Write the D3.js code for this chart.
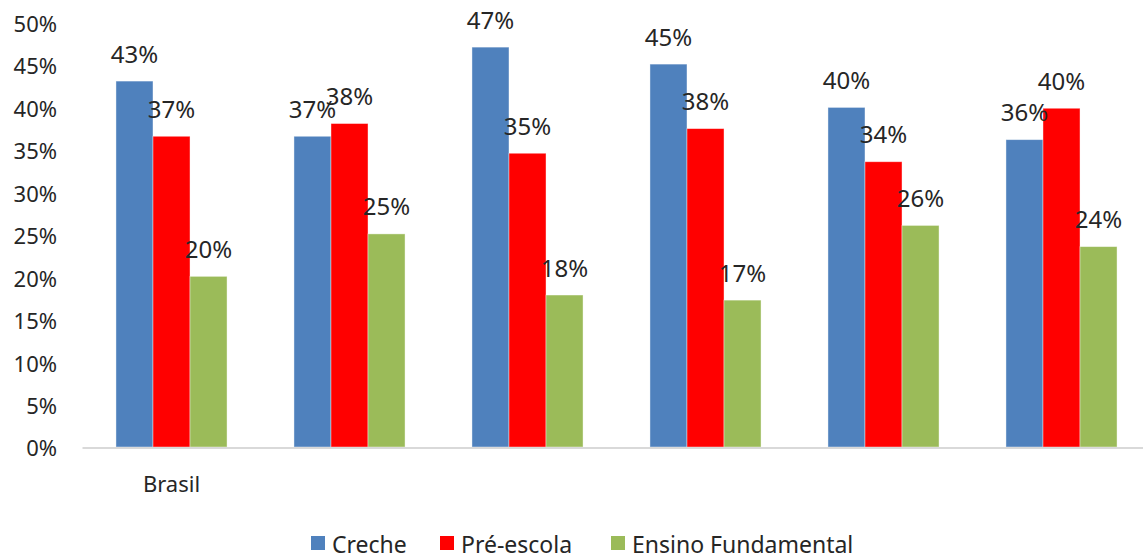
<!DOCTYPE html>
<html>
<head>
<meta charset="utf-8">
<script src="https://cdn.jsdelivr.net/npm/d3@7"></script>
<style>
  html, body { margin: 0; padding: 0; background: #fff; }
  svg { display: block; }
  text { font-family: "Noto Sans", "Open Sans", sans-serif; fill: #262626; }
</style>
</head>
<body>
<svg id="chart" width="1143" height="559"></svg>
<script>
const groups = ["g1", "g2", "g3", "g4", "g5", "g6"];
const groupLabels = ["Brasil", "", "", "", "", ""];
const seriesNames = ["Creche", "Pré-escola", "Ensino Fundamental"];
const creche = [43.1, 36.6, 47.1, 45.1, 40.0, 36.2];
const preEscola = [36.6, 38.1, 34.6, 37.5, 33.6, 39.9];
const ensinoFundamental = [20.1, 25.1, 17.9, 17.3, 26.1, 23.6];
const seriesColors = ["#4F81BD", "#FF0000", "#9BBB59"];
const yTicks = [0, 5, 10, 15, 20, 25, 30, 35, 40, 45, 50];

const seriesValues = [creche, preEscola, ensinoFundamental];

const svg = d3.select("#chart");
const plotLeft = 82.5, plotRight = 1150.5, plotTop = 22.5, plotBottom = 447;

const y = d3.scaleLinear().domain([0, 50]).range([plotBottom, plotTop]);
const x0 = d3.scaleBand().domain(groups).range([plotLeft, plotRight]).padding(0);
const x1 = d3.scaleBand().domain(seriesNames)
  .range([x0.bandwidth() * 0.188, x0.bandwidth() * 0.812]).padding(0);

// y axis labels
const yAxis = d3.axisLeft(y).tickValues(yTicks).tickFormat(d => d + "%").tickSize(0).tickPadding(0);
const yg = svg.append("g").attr("transform", `translate(57,1)`).call(yAxis);
yg.select(".domain").remove();
yg.selectAll("text").style("font-size", "22px").attr("dy", "0.36em");

// bars
const data = groups.map((g, i) => ({ g, vals: seriesNames.map((s, j) => ({ s, v: seriesValues[j][i], c: seriesColors[j] })) }));
const gg = svg.append("g").selectAll("g").data(data).join("g")
  .attr("transform", d => `translate(${x0(d.g)},0)`);
gg.selectAll("rect").data(d => d.vals).join("rect")
  .attr("x", d => x1(d.s))
  .attr("width", x1.bandwidth())
  .attr("y", d => y(d.v))
  .attr("height", d => y(0) - y(d.v))
  .attr("fill", d => d.c)
  .attr("stroke", "#ffffff")
  .attr("stroke-opacity", 0.5)
  .attr("stroke-width", 0.8);

// x axis line
svg.append("line")
  .attr("x1", plotLeft).attr("x2", 1143)
  .attr("y1", plotBottom + 1).attr("y2", plotBottom + 1)
  .attr("stroke", "#D9D9D9").attr("stroke-width", 2);

// data labels
gg.selectAll("text.lbl").data(d => d.vals).join("text")
  .attr("class", "lbl")
  .attr("x", d => x1(d.s) + x1.bandwidth() / 2)
  .attr("y", d => y(d.v) - 18.5)
  .attr("text-anchor", "middle")
  .style("font-size", "24px")
  .text(d => Math.round(d.v) + "%");

// x axis labels
const xAxis = d3.axisBottom(x0).tickFormat((d, i) => groupLabels[i]).tickSize(0).tickPadding(0);
const xg = svg.append("g").attr("transform", `translate(0,${plotBottom})`).call(xAxis);
xg.select(".domain").remove();
xg.selectAll("text").style("font-size", "22px").attr("y", 45).attr("dy", 0);

// legend
const legendItems = [
  { name: seriesNames[0], color: seriesColors[0], x: 311 },
  { name: seriesNames[1], color: seriesColors[1], x: 440 },
  { name: seriesNames[2], color: seriesColors[2], x: 611 }
];
const lg = svg.append("g").selectAll("g").data(legendItems).join("g")
  .attr("transform", d => `translate(${d.x},536)`);
lg.append("rect").attr("width", 14).attr("height", 14).attr("fill", d => d.color);
lg.append("text").attr("x", 21).attr("y", 17).style("font-size", "23px").text(d => d.name);
</script>
</body>
</html>
